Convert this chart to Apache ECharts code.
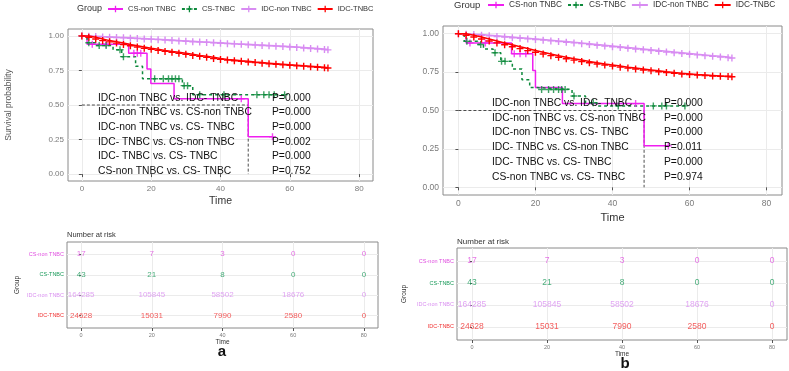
<!DOCTYPE html>
<html>
<head>
<meta charset="utf-8">
<script src="https://cdn.jsdelivr.net/npm/echarts@6/dist/echarts.min.js"></script>
<style>
  html, body { margin: 0; padding: 0; background: #fff; }
  #chart { width: 789px; height: 371px; }
</style>
</head>
<body>
<div id="chart"></div>
<script>
// groups, in legend order
const groups = ['CS-non TNBC', 'CS-TNBC', 'IDC-non TNBC', 'IDC-TNBC'];
const xTicks = [0, 20, 40, 60, 80];
const yTicks = [0, 0.25, 0.5, 0.75, 1];
const riskTimes = [0, 20, 40, 60, 80];

// panel a: step curves [time, survival] and censor times
const aCsNonSteps = [[0, 1], [1.5, 0.94], [13.5, 0.875], [18.8, 0.76], [19.9, 0.655], [26.6, 0.545], [48, 0.27], [55, 0.27]];
const aCsNonCensor = [3, 7, 15, 16, 17, 46, 55];
const aCsTnbcSteps = [[0, 1], [1.5, 0.95], [4, 0.93], [9, 0.9], [11.5, 0.85], [15.5, 0.78], [17.5, 0.69], [29, 0.64], [32, 0.575], [58.5, 0.575]];
const aCsTnbcCensor = [2, 5, 7, 11, 12, 21, 23.5, 25, 26, 27, 28, 29.5, 30.5, 34, 41, 50.5, 52.5, 54, 55.5, 58.5];

// IDC curves: survival read every 2 months (last point at 71)
const idcTimes = [0, 2, 4, 6, 8, 10, 12, 14, 16, 18, 20, 22, 24, 26, 28, 30, 32, 34, 36, 38, 40, 42, 44, 46, 48, 50, 52, 54, 56, 58, 60, 62, 64, 66, 68, 70, 71];
const aIdcNon = [1.0, 0.998, 0.995, 0.993, 0.99, 0.988, 0.986, 0.983, 0.981, 0.978, 0.976, 0.973, 0.97, 0.967, 0.964, 0.961, 0.958, 0.956, 0.953, 0.95, 0.947, 0.944, 0.942, 0.939, 0.936, 0.934, 0.931, 0.928, 0.926, 0.923, 0.92, 0.917, 0.913, 0.909, 0.905, 0.901, 0.899];
const aIdcTnbc = [1.0, 0.99, 0.978, 0.966, 0.957, 0.948, 0.938, 0.929, 0.92, 0.911, 0.903, 0.895, 0.888, 0.881, 0.874, 0.867, 0.859, 0.852, 0.845, 0.837, 0.83, 0.825, 0.82, 0.816, 0.811, 0.807, 0.803, 0.799, 0.795, 0.791, 0.788, 0.784, 0.781, 0.777, 0.773, 0.77, 0.768];

// panel b
const bCsNonSteps = [[0, 1], [2, 0.94], [13.8, 0.87], [19.3, 0.76], [20, 0.65], [27, 0.545], [48.2, 0.27], [54.5, 0.27]];
const bCsNonCensor = [3, 7, 14.5, 16, 17.5, 46, 54.5];
const bCsTnbcSteps = [[0, 1], [1.5, 0.95], [5, 0.93], [6.5, 0.9], [9, 0.876], [11, 0.82], [14, 0.77], [16.5, 0.7], [18.5, 0.65], [20, 0.637], [29.5, 0.594], [33, 0.55], [36, 0.53], [59, 0.53]];
const bCsTnbcCensor = [2.2, 5.8, 9.5, 11.2, 12.1, 21.6, 23.4, 24.7, 26, 26.8, 27.7, 30, 35, 41.5, 50.6, 52.8, 54, 58.8];
const bIdcNon = [1.0, 0.997, 0.994, 0.99, 0.986, 0.982, 0.978, 0.974, 0.97, 0.966, 0.962, 0.958, 0.953, 0.949, 0.944, 0.94, 0.935, 0.93, 0.925, 0.92, 0.915, 0.91, 0.905, 0.9, 0.895, 0.89, 0.885, 0.88, 0.876, 0.871, 0.866, 0.862, 0.857, 0.853, 0.848, 0.844, 0.842];
const bIdcTnbc = [1.0, 0.99, 0.978, 0.965, 0.952, 0.94, 0.928, 0.915, 0.903, 0.89, 0.879, 0.868, 0.857, 0.847, 0.837, 0.828, 0.819, 0.811, 0.803, 0.796, 0.789, 0.782, 0.776, 0.77, 0.764, 0.758, 0.752, 0.747, 0.742, 0.738, 0.734, 0.731, 0.728, 0.725, 0.723, 0.721, 0.72];

// number at risk (same in both panels)
const riskCsNon = [17, 7, 3, 0, 0];
const riskCsTnbc = [43, 21, 8, 0, 0];
const riskIdcNon = [164285, 105845, 58502, 18676, 0];
const riskIdcTnbc = [24628, 15031, 7990, 2580, 0];

const comparisons = ['IDC-non TNBC vs. IDC- TNBC', 'IDC-non TNBC vs. CS-non TNBC', 'IDC-non TNBC vs. CS- TNBC',
  'IDC- TNBC vs. CS-non TNBC', 'IDC- TNBC vs. CS- TNBC', 'CS-non TNBC vs. CS- TNBC'];
const aPvals = ['P=0.000', 'P=0.000', 'P=0.000', 'P=0.002', 'P=0.000', 'P=0.752'];
const bPvals = ['P=0.000', 'P=0.000', 'P=0.000', 'P=0.011', 'P=0.000', 'P=0.974'];

const lineColors = ['#f01ef0', '#0e8a3c', '#d88cf2', '#ff0000'];
const textColors = ['#e050e0', '#1a9a5a', '#d98ff0', '#f03434'];
const PLUS = 'path://M4,0h2v4h4v2h-4v4h-2v-4h-4v-2h4z';
const FONT = 'Liberation Sans, Arial, sans-serif';

function survAt(steps, t) {
  let s = steps[0][1];
  steps.forEach(function (p) { if (p[0] <= t) s = p[1]; });
  return s;
}
function medianTime(steps) {
  for (const p of steps) if (p[1] <= 0.5) return p[0];
  return null;
}

let chart = echarts.init(document.getElementById('chart'));

function kmSeries(gi, csNon, csNonC, csTnbc, csTnbcC, idcNon, idcTnbc) {
  const out = [];
  const med = medianTime(csNon);
  out.push({
    name: 'median', type: 'line', xAxisIndex: gi, yAxisIndex: gi, silent: true,
    data: [[0, 0.5], [med, 0.5], [med, 0]], showSymbol: false, symbol: 'none', z: 1,
    lineStyle: {color: '#222', width: 0.8, type: [3, 2]}
  });
  out.push({
    name: groups[0], type: 'line', step: 'end', xAxisIndex: gi, yAxisIndex: gi,
    data: csNon, symbol: PLUS, symbolSize: 7, showSymbol: false, z: 2,
    itemStyle: {color: lineColors[0]}, lineStyle: {color: lineColors[0], width: 1.5}
  });
  out.push({
    name: groups[1], type: 'line', step: 'end', xAxisIndex: gi, yAxisIndex: gi,
    data: csTnbc, symbol: PLUS, symbolSize: 7, showSymbol: false, z: 2,
    itemStyle: {color: lineColors[1]}, lineStyle: {color: lineColors[1], width: 1.5, type: [3, 3]}
  });
  out.push({
    name: groups[2], type: 'line', step: 'end', xAxisIndex: gi, yAxisIndex: gi,
    data: idcTimes.map((t, i) => [t, idcNon[i]]), symbol: PLUS, symbolSize: 7, z: 3,
    itemStyle: {color: lineColors[2]}, lineStyle: {color: lineColors[2], width: 1.5}
  });
  out.push({
    name: groups[3], type: 'line', step: 'end', xAxisIndex: gi, yAxisIndex: gi,
    data: idcTimes.map((t, i) => [t, idcTnbc[i]]), symbol: PLUS, symbolSize: 7, z: 4,
    itemStyle: {color: lineColors[3]}, lineStyle: {color: lineColors[3], width: 1.5}
  });
  out.push({
    name: 'c0', type: 'scatter', xAxisIndex: gi, yAxisIndex: gi, symbol: PLUS, symbolSize: 7, z: 2,
    data: csNonC.map(t => [t, survAt(csNon, t)]), itemStyle: {color: lineColors[0]}
  });
  out.push({
    name: 'c1', type: 'scatter', xAxisIndex: gi, yAxisIndex: gi, symbol: PLUS, symbolSize: 7, z: 2,
    data: csTnbcC.map(t => [t, survAt(csTnbc, t)]), itemStyle: {color: lineColors[1]}
  });
  return out;
}

function riskSeries(gi, fs) {
  const rows = [riskCsNon, riskCsTnbc, riskIdcNon, riskIdcTnbc];
  return rows.map(function (vals, k) {
    return {
      name: 'risk' + k, type: 'scatter', xAxisIndex: gi, yAxisIndex: gi, symbolSize: 0.1,
      itemStyle: {color: 'transparent'}, silent: true,
      data: riskTimes.map((t, i) => [t, 4 - k, vals[i]]),
      label: {show: true, position: 'inside', formatter: p => String(p.value[2]),
        color: textColors[k], fontSize: fs, fontFamily: FONT}
    };
  });
}

function kmX(gi, fs, gap, nfs) {
  return {
    gridIndex: gi, type: 'value', min: -4, max: 84,
    axisLine: {show: false},
    axisTick: {customValues: xTicks, length: 3, lineStyle: {color: '#555'}},
    axisLabel: {customValues: xTicks, fontSize: fs, color: '#7a7a7a', margin: 4, fontFamily: FONT},
    splitLine: {show: true, lineStyle: {color: '#ebebeb', width: 1}},
    name: 'Time', nameLocation: 'middle', nameGap: gap,
    nameTextStyle: {fontSize: nfs, color: '#333', fontFamily: FONT}
  };
}

const rowNames = {4: groups[0], 3: groups[1], 2: groups[2], 1: groups[3]};

function riskY(gi, fs, gap) {
  return {
    gridIndex: gi, type: 'value', min: 0.4, max: 4.6,
    axisLine: {show: false},
    axisTick: {customValues: [1, 2, 3, 4], length: 2, lineStyle: {color: '#555'}},
    axisLabel: {customValues: [1, 2, 3, 4], fontSize: fs, margin: 3, fontFamily: FONT,
      formatter: v => rowNames[v] || '', color: v => textColors[4 - v]},
    splitLine: {show: true, lineStyle: {color: '#ebebeb'}},
    name: 'Group', nameLocation: 'middle', nameGap: gap, nameRotate: 90,
    nameTextStyle: {fontSize: 6.5, color: '#333', fontFamily: FONT}
  };
}

function annot(x0, y0, dy, px, pvals, fs) {
  const els = [];
  comparisons.forEach(function (c, i) {
    els.push({type: 'text', z: 100, style: {text: c, x: x0, y: y0 + i * dy, fill: '#111',
      font: fs + 'px ' + FONT, textVerticalAlign: 'middle'}});
    els.push({type: 'text', z: 100, style: {text: pvals[i], x: px, y: y0 + i * dy, fill: '#111',
      font: fs + 'px ' + FONT, textVerticalAlign: 'middle'}});
  });
  return els;
}

const graphics = [].concat(
  annot(98, 98, 14.6, 272, aPvals, 10.3),
  annot(492, 103, 14.8, 664, bPvals, 10.3),
  [
    {type: 'text', style: {text: 'Group', x: 77, y: 9, fill: '#333', font: '9px ' + FONT, textVerticalAlign: 'middle'}},
    {type: 'text', style: {text: 'Group', x: 454, y: 5, fill: '#333', font: '9.5px ' + FONT, textVerticalAlign: 'middle'}},
    {type: 'text', style: {text: 'Number at risk', x: 67, y: 235, fill: '#333', font: '7.5px ' + FONT, textVerticalAlign: 'middle'}},
    {type: 'text', style: {text: 'Number at risk', x: 457, y: 242, fill: '#333', font: '8px ' + FONT, textVerticalAlign: 'middle'}},
    {type: 'text', style: {text: 'a', x: 222, y: 352, fill: '#111', font: 'bold 15px ' + FONT, textAlign: 'center', textVerticalAlign: 'middle'}},
    {type: 'text', style: {text: 'b', x: 625, y: 364, fill: '#111', font: 'bold 15px ' + FONT, textAlign: 'center', textVerticalAlign: 'middle'}}
  ]
);

chart.setOption({
  animation: false,
  backgroundColor: '#fff',
  textStyle: {fontFamily: FONT},
  legend: [
    {data: groups, left: 107, top: 5, width: 300, itemWidth: 15, itemHeight: 8, itemGap: 5, padding: 0,
      textStyle: {fontSize: 7.5, color: '#333', fontFamily: FONT}},
    {data: groups, left: 487, top: 1, width: 400, itemWidth: 16, itemHeight: 8, itemGap: 5, padding: 0,
      textStyle: {fontSize: 8.3, color: '#333', fontFamily: FONT}}
  ],
  grid: [
    {left: 68, top: 29, width: 305, height: 152, show: true, borderColor: '#8a8a8a', borderWidth: 1},
    {left: 443, top: 26, width: 339, height: 169, show: true, borderColor: '#8a8a8a', borderWidth: 1},
    {left: 67, top: 242, width: 311, height: 86, show: true, borderColor: '#8a8a8a', borderWidth: 1},
    {left: 457, top: 248, width: 330, height: 92, show: true, borderColor: '#8a8a8a', borderWidth: 1}
  ],
  xAxis: [
    kmX(0, 8, 15, 10.5),
    kmX(1, 8.5, 17, 11),
    kmX(2, 5.5, 9, 6.5),
    kmX(3, 5.5, 10, 6.5)
  ],
  yAxis: [
    {gridIndex: 0, type: 'value', min: -0.05, max: 1.05,
      axisLine: {show: false},
      axisTick: {customValues: yTicks, length: 3, lineStyle: {color: '#555'}},
      axisLabel: {customValues: yTicks, formatter: v => v.toFixed(2), fontSize: 8, color: '#7a7a7a', margin: 4, fontFamily: FONT},
      splitLine: {show: true, lineStyle: {color: '#ebebeb'}},
      name: 'Survival probability', nameLocation: 'middle', nameGap: 55,
      nameTextStyle: {fontSize: 8.5, color: '#555', fontFamily: FONT}},
    {gridIndex: 1, type: 'value', min: -0.05, max: 1.05,
      axisLine: {show: false},
      axisTick: {customValues: yTicks, length: 3, lineStyle: {color: '#555'}},
      axisLabel: {customValues: yTicks, formatter: v => v.toFixed(2), fontSize: 8.5, color: '#7a7a7a', margin: 4, fontFamily: FONT},
      splitLine: {show: true, lineStyle: {color: '#ebebeb'}}},
    riskY(2, 5.5, 46),
    riskY(3, 5.5, 49)
  ],
  graphic: graphics,
  series: [].concat(
    kmSeries(0, aCsNonSteps, aCsNonCensor, aCsTnbcSteps, aCsTnbcCensor, aIdcNon, aIdcTnbc),
    kmSeries(1, bCsNonSteps, bCsNonCensor, bCsTnbcSteps, bCsTnbcCensor, bIdcNon, bIdcTnbc),
    riskSeries(2, 8),
    riskSeries(3, 8.5)
  )
});
</script>
</body>
</html>
